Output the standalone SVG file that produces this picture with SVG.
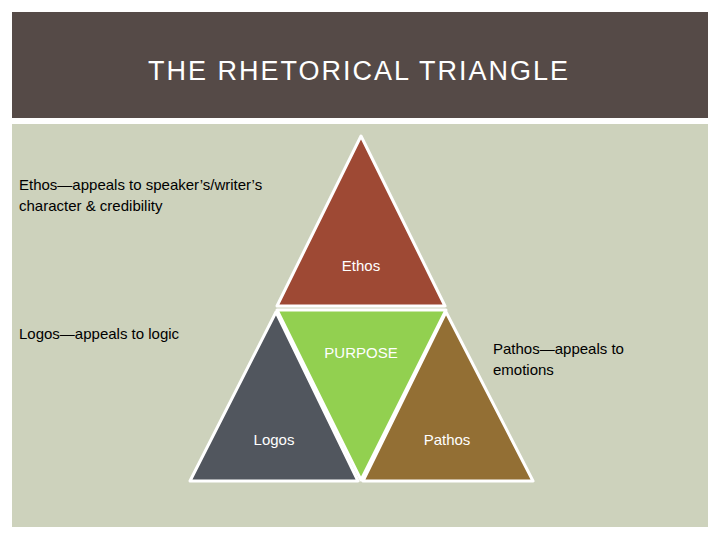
<svg xmlns="http://www.w3.org/2000/svg" width="720" height="540" viewBox="0 0 720 540">
<style>
.tri{stroke:#fff;stroke-width:3;stroke-linejoin:round}
.lbl{font-family:"Liberation Sans",Arial,sans-serif;font-size:15px;fill:#fff;text-anchor:middle}
.note{font-family:"Liberation Sans",Arial,sans-serif;font-size:15px;fill:#000}
</style>
<rect width="720" height="540" fill="#fff"/>
<rect x="12" y="12" width="696" height="106" fill="#554a47"/>
<text x="359" y="80" font-family="Liberation Sans,Arial,sans-serif" font-size="27" fill="#fff" text-anchor="middle" letter-spacing="2">THE RHETORICAL TRIANGLE</text>
<rect x="12" y="124" width="696" height="403" fill="#cdd2bc"/>
<g id="ethos"><polygon class="tri" points="361,136 445,306 277,306" fill="#9e4934"/><text class="lbl" x="361" y="271">Ethos</text></g>
<g id="purpose"><polygon class="tri" points="277,310 446,310 361,480" fill="#92d050"/><text class="lbl" x="361" y="358">PURPOSE</text></g>
<g id="logos"><polygon class="tri" points="276,312 358,481 190,481" fill="#51565e"/><text class="lbl" x="274" y="445">Logos</text></g>
<g id="pathos"><polygon class="tri" points="446,312 533,481 363,481" fill="#936f34"/><text class="lbl" x="447" y="445">Pathos</text></g>
<g id="notes">
<text class="note" x="19" y="190">Ethos—appeals to speaker’s/writer’s</text>
<text class="note" x="19" y="211">character &amp; credibility</text>
<text class="note" x="19" y="339">Logos—appeals to logic</text>
<text class="note" x="493" y="354">Pathos—appeals to</text>
<text class="note" x="493" y="375">emotions</text>
</g>
<g id="connectors"/>
</svg>
